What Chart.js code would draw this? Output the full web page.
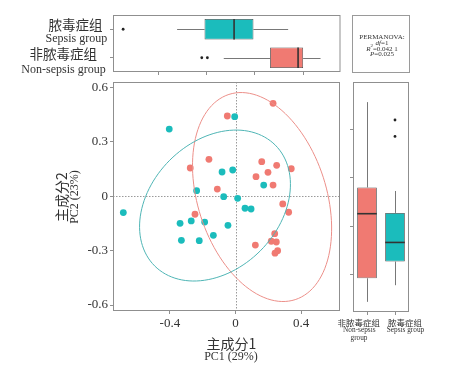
<!DOCTYPE html>
<html>
<head>
<meta charset="utf-8">
<script src="https://cdn.jsdelivr.net/npm/chart.js@4.4.1/dist/chart.umd.min.js"></script>
<style>
  html, body { margin: 0; padding: 0; background: #fff; }
  #wrap { position: relative; width: 454px; height: 370px; overflow: hidden; }
  #wrap canvas { position: absolute; left: 0; top: 0; }
  .t { position: absolute; transform: translate(-50%, -50%); white-space: nowrap; line-height: 1;
       color: #333; font-family: "Liberation Serif", "Noto Sans CJK SC", serif; }
  .cjk { font-family: "Noto Sans CJK SC", sans-serif; color: #333; }
  .rot { transform: translate(-50%, -50%) rotate(-90deg); }
  #perm { position: absolute; left: 352px; top: 15px; width: 58px; height: 58px;
          box-sizing: border-box; border: 1px solid #9a9a9a; }
</style>
</head>
<body>
<div id="wrap">
  <canvas id="main" width="454" height="370"></canvas>
  <canvas id="topBox" width="454" height="370"></canvas>
  <canvas id="rightBox" width="454" height="370"></canvas>

  <!-- étiquettes du boxplot du haut -->
  <div class="t cjk" style="left:75.5px; top:25px; font-size:13.5px">脓毒症组</div>
  <div class="t" style="left:76.3px; top:38px; font-size:12px">Sepsis group</div>
  <div class="t cjk" style="left:63.3px; top:53.5px; font-size:13.5px">非脓毒症组</div>
  <div class="t" style="left:63.5px; top:68.5px; font-size:12px">Non-sepsis group</div>

  <!-- PERMANOVA -->
  <div id="perm"></div>
  <div class="t" style="left:382px; top:36.5px; font-size:7px">PERMANOVA:</div>
  <div class="t" style="left:382px; top:42.5px; font-size:7px"><i>df</i>=1</div>
  <div class="t" style="left:382px; top:48px; font-size:7px"><i>R</i><sup style="font-size:5px">2</sup>=0.042 1</div>
  <div class="t" style="left:382px; top:53.5px; font-size:7px"><i>P</i>=0.025</div>

  <!-- titres des axes -->
  <div class="t cjk" style="left:231.5px; top:343px; font-size:14px">主成分1</div>
  <div class="t" style="left:231px; top:355.5px; font-size:12px">PC1 (29%)</div>
  <div class="t cjk rot" style="left:61px; top:197px; font-size:14px">主成分2</div>
  <div class="t rot" style="left:73.5px; top:196.5px; font-size:12px">PC2 (23%)</div>

  <!-- étiquettes du boxplot de droite -->
  <div class="t cjk" style="left:358.7px; top:321.5px; font-size:8.5px">非脓毒症组</div>
  <div class="t" style="left:359.3px; top:329.5px; font-size:7.3px">Non-sepsis</div>
  <div class="t" style="left:359px; top:337.7px; font-size:7.3px">group</div>
  <div class="t cjk" style="left:405px; top:321.5px; font-size:8.5px">脓毒症组</div>
  <div class="t" style="left:405.5px; top:329.5px; font-size:7.3px">Sepsis group</div>
</div>

<script>
// Données
const groups = ["非脓毒症组", "脓毒症组"]

const nonSepsisPC1 = [0.229, -0.050, -0.162, -0.276, 0.160, 0.251, 0.340, 0.198, 0.125, 0.229,
  -0.111, 0.288, 0.324, -0.247, 0.239, 0.218, 0.249, 0.121, 0.257, 0.241]
const nonSepsisPC2 = [0.513, 0.443, 0.204, 0.156, 0.191, 0.171, 0.152, 0.132, 0.108, 0.062,
  0.040, -0.042, -0.088, -0.099, -0.206, -0.248, -0.252, -0.269, -0.300, -0.314]

const sepsisPC1 = [-0.005, -0.404, -0.017, -0.082, 0.172, -0.237, -0.072, 0.013, 0.058, 0.095,
  -0.684, -0.270, -0.188, -0.338, -0.046, -0.135, -0.330, -0.221]
const sepsisPC2 = [0.439, 0.371, 0.145, 0.134, 0.062, 0.031, -0.002, -0.011, -0.066, -0.070,
  -0.090, -0.136, -0.142, -0.149, -0.160, -0.215, -0.243, -0.245]

// ellipses de confiance : centre + deux demi-axes conjugués (unités PC1, PC2)
const nonSepsisEllipse = { center: [0.162, -0.004], axisA: [-0.202, 0.566], axisB: [0.373, 0.109] }
const sepsisEllipse = { center: [-0.125, -0.051], axisA: [0.368, 0.333], axisB: [0.276, -0.250] }

const pc1Ticks = [-0.4, 0, 0.4]
const pc1TickLabels = ["-0.4", "0", "0.4"]
const pc2Ticks = [-0.6, -0.3, 0, 0.3, 0.6]
const pc2TickLabels = ["-0.6", "-0.3", "0", "0.3", "0.6"]
const boxPC1Ticks = [-0.5, -0.25, 0, 0.25]
const boxPC2Ticks = [-0.2, 0, 0.2, 0.4]

const red = "#f07a72"
const teal = "#1bbcbc"
const frameColor = "#8f8f8f"
const tickColor = "#8f8f8f"

// Statistiques des boîtes (quantiles type 7, moustaches 1,5 IQR)
function quantile(sorted, p) {
  const h = (sorted.length - 1) * p
  const lo = Math.floor(h)
  const next = lo + 1 < sorted.length ? sorted[lo + 1] : sorted[lo]
  return sorted[lo] + (h - lo) * (next - sorted[lo])
}
function boxStats(values) {
  const s = [...values].sort((a, b) => a - b)
  const q1 = quantile(s, 0.25)
  const med = quantile(s, 0.5)
  const q3 = quantile(s, 0.75)
  const iqr = q3 - q1
  const inside = s.filter((v) => v >= q1 - 1.5 * iqr && v <= q3 + 1.5 * iqr)
  return { q1, med, q3, lo: inside[0], hi: inside[inside.length - 1], out: s.filter((v) => !inside.includes(v)) }
}

// Cadre du panneau
const framePlugin = {
  id: "frame",
  afterDraw(chart) {
    const a = chart.chartArea
    const ctx = chart.ctx
    ctx.save()
    ctx.strokeStyle = frameColor
    ctx.lineWidth = 1
    ctx.strokeRect(a.left + 0.5, a.top + 0.5, a.right - a.left - 1, a.bottom - a.top - 1)
    ctx.restore()
  },
}

// Lignes zéro pointillées + ellipses
const pcaPlugin = {
  id: "pcaExtras",
  beforeDatasetsDraw(chart) {
    const { ctx, chartArea: a, scales } = chart
    const x0 = Math.round(scales.x.getPixelForValue(0)) + 0.5
    const y0 = Math.round(scales.y.getPixelForValue(0)) + 0.5
    ctx.save()
    ctx.strokeStyle = "#9a9a9a"
    ctx.lineWidth = 1
    ctx.setLineDash([1.5, 1.5])
    ctx.beginPath()
    ctx.moveTo(x0, a.top)
    ctx.lineTo(x0, a.bottom)
    ctx.moveTo(a.left, y0)
    ctx.lineTo(a.right, y0)
    ctx.stroke()
    ctx.restore()
  },
  afterDatasetsDraw(chart, args, opts) {
    const { ctx, scales } = chart
    opts.ellipses.forEach((e) => {
      ctx.save()
      ctx.strokeStyle = e.color
      ctx.lineWidth = 1
      ctx.beginPath()
      for (let k = 0; k <= 120; k++) {
        const t = (k / 120) * Math.PI * 2
        const vx = e.center[0] + e.axisA[0] * Math.cos(t) + e.axisB[0] * Math.sin(t)
        const vy = e.center[1] + e.axisA[1] * Math.cos(t) + e.axisB[1] * Math.sin(t)
        const px = scales.x.getPixelForValue(vx)
        const py = scales.y.getPixelForValue(vy)
        if (k === 0) ctx.moveTo(px, py)
        else ctx.lineTo(px, py)
      }
      ctx.stroke()
      ctx.restore()
    })
  },
}

// Moustaches, médianes et valeurs extrêmes des boxplots
const boxPlugin = {
  id: "boxParts",
  beforeDatasetsDraw(chart, args, opts) {
    const horiz = chart.options.indexAxis === "y"
    const idx = horiz ? chart.scales.y : chart.scales.x
    const val = horiz ? chart.scales.x : chart.scales.y
    const ctx = chart.ctx
    ctx.save()
    ctx.strokeStyle = "#555"
    ctx.lineWidth = 0.8
    opts.stats.forEach((s, i) => {
      const c = Math.round(idx.getPixelForValue(i)) + 0.5
      ;[[s.lo, s.q1], [s.q3, s.hi]].forEach(([v1, v2]) => {
        ctx.beginPath()
        if (horiz) {
          ctx.moveTo(val.getPixelForValue(v1), c)
          ctx.lineTo(val.getPixelForValue(v2), c)
        } else {
          ctx.moveTo(c, val.getPixelForValue(v1))
          ctx.lineTo(c, val.getPixelForValue(v2))
        }
        ctx.stroke()
      })
    })
    ctx.restore()
  },
  afterDatasetsDraw(chart, args, opts) {
    const horiz = chart.options.indexAxis === "y"
    const idx = horiz ? chart.scales.y : chart.scales.x
    const val = horiz ? chart.scales.x : chart.scales.y
    const ctx = chart.ctx
    const bars = chart.getDatasetMeta(0).data
    ctx.save()
    opts.stats.forEach((s, i) => {
      const c = idx.getPixelForValue(i)
      const half = (horiz ? bars[i].height : bars[i].width) / 2
      const m = val.getPixelForValue(s.med)
      ctx.strokeStyle = "#333"
      ctx.lineWidth = 1.6
      ctx.beginPath()
      if (horiz) {
        ctx.moveTo(m, c - half)
        ctx.lineTo(m, c + half)
      } else {
        ctx.moveTo(c - half, m)
        ctx.lineTo(c + half, m)
      }
      ctx.stroke()
      ctx.fillStyle = "#222"
      s.out.forEach((v) => {
        const p = val.getPixelForValue(v)
        ctx.beginPath()
        if (horiz) ctx.arc(p, c, 1.4, 0, Math.PI * 2)
        else ctx.arc(c, p, 1.4, 0, Math.PI * 2)
        ctx.fill()
      })
    })
    ctx.restore()
  },
}

const tickFont = { family: "'Liberation Serif', serif", size: 13 }

// Nuage de points PCA
new Chart(document.getElementById("main"), {
  type: "scatter",
  data: {
    datasets: [
      {
        label: groups[0],
        data: nonSepsisPC1.map((x, i) => ({ x, y: nonSepsisPC2[i] })),
        backgroundColor: red,
        borderWidth: 0,
        pointRadius: 3.4,
      },
      {
        label: groups[1],
        data: sepsisPC1.map((x, i) => ({ x, y: sepsisPC2[i] })),
        backgroundColor: teal,
        borderWidth: 0,
        pointRadius: 3.4,
      },
    ],
  },
  options: {
    responsive: false,
    animation: false,
    devicePixelRatio: 1,
    layout: { padding: { left: 0, top: 82, right: 114, bottom: 0 } },
    plugins: {
      legend: { display: false },
      tooltip: { enabled: false },
      pcaExtras: {
        ellipses: [
          { ...nonSepsisEllipse, color: "#ec8f89" },
          { ...sepsisEllipse, color: "#4fb5b5" },
        ],
      },
    },
    scales: {
      x: {
        type: "linear",
        min: -0.747,
        max: 0.6372,
        afterBuildTicks: (s) => { s.ticks = pc1Ticks.map((v) => ({ value: v })) },
        ticks: { callback: (v, i) => pc1TickLabels[i], font: tickFont, color: "#333", padding: 2, maxRotation: 0, autoSkip: false },
        grid: { drawOnChartArea: false, tickLength: 3, color: tickColor },
        border: { display: false },
        afterFit: (s) => { s.height = 59 },
      },
      y: {
        type: "linear",
        min: -0.6327,
        max: 0.6305,
        afterBuildTicks: (s) => { s.ticks = pc2Ticks.map((v) => ({ value: v })) },
        ticks: { callback: (v, i) => pc2TickLabels[i], font: tickFont, color: "#333", padding: 2, autoSkip: false },
        grid: { drawOnChartArea: false, tickLength: 3, color: tickColor },
        border: { display: false },
        afterFit: (s) => { s.width = 113 },
      },
    },
  },
  plugins: [pcaPlugin, framePlugin],
})

// Boxplot PC1 (haut)
const pc1Stats = [boxStats(sepsisPC1), boxStats(nonSepsisPC1)]
new Chart(document.getElementById("topBox"), {
  type: "bar",
  data: {
    labels: [groups[1], groups[0]],
    datasets: [
      {
        data: pc1Stats.map((s) => [s.q1, s.q3]),
        backgroundColor: [teal, red],
        borderColor: "#444",
        borderWidth: 0.8,
        borderSkipped: false,
        barPercentage: 0.72,
        categoryPercentage: 1,
      },
    ],
  },
  options: {
    indexAxis: "y",
    responsive: false,
    animation: false,
    devicePixelRatio: 1,
    layout: { padding: { left: 108, top: 15, right: 113.5, bottom: 294 } },
    plugins: { legend: { display: false }, tooltip: { enabled: false }, boxParts: { stats: pc1Stats } },
    scales: {
      x: {
        type: "linear",
        min: -0.7365,
        max: 0.4435,
        afterBuildTicks: (s) => { s.ticks = boxPC1Ticks.map((v) => ({ value: v })) },
        ticks: { display: false },
        grid: { drawOnChartArea: false, tickLength: 3, color: tickColor },
        border: { display: false },
        afterFit: (s) => { s.height = 4 },
      },
      y: {
        ticks: { display: false },
        grid: { offset: false, drawOnChartArea: false, tickLength: 3, color: tickColor },
        border: { display: false },
        afterFit: (s) => { s.width = 5 },
      },
    },
  },
  plugins: [boxPlugin, framePlugin],
})

// Boxplot PC2 (droite)
const pc2Stats = [boxStats(nonSepsisPC2), boxStats(sepsisPC2)]
new Chart(document.getElementById("rightBox"), {
  type: "bar",
  data: {
    labels: groups,
    datasets: [
      {
        data: pc2Stats.map((s) => [s.q1, s.q3]),
        backgroundColor: [red, teal],
        borderColor: "#444",
        borderWidth: 0.8,
        borderSkipped: false,
        barPercentage: 0.7,
        categoryPercentage: 1,
      },
    ],
  },
  options: {
    responsive: false,
    animation: false,
    devicePixelRatio: 1,
    layout: { padding: { left: 348, top: 82, right: 45, bottom: 54 } },
    plugins: { legend: { display: false }, tooltip: { enabled: false }, boxParts: { stats: pc2Stats } },
    scales: {
      x: {
        ticks: { display: false },
        grid: { offset: false, drawOnChartArea: false, tickLength: 3, color: tickColor },
        border: { display: false },
        afterFit: (s) => { s.height = 4 },
      },
      y: {
        type: "linear",
        min: -0.356,
        max: 0.5963,
        afterBuildTicks: (s) => { s.ticks = boxPC2Ticks.map((v) => ({ value: v })) },
        ticks: { display: false },
        grid: { drawOnChartArea: false, tickLength: 3, color: tickColor },
        border: { display: false },
        afterFit: (s) => { s.width = 5 },
      },
    },
  },
  plugins: [boxPlugin, framePlugin],
})
</script>
</body>
</html>
